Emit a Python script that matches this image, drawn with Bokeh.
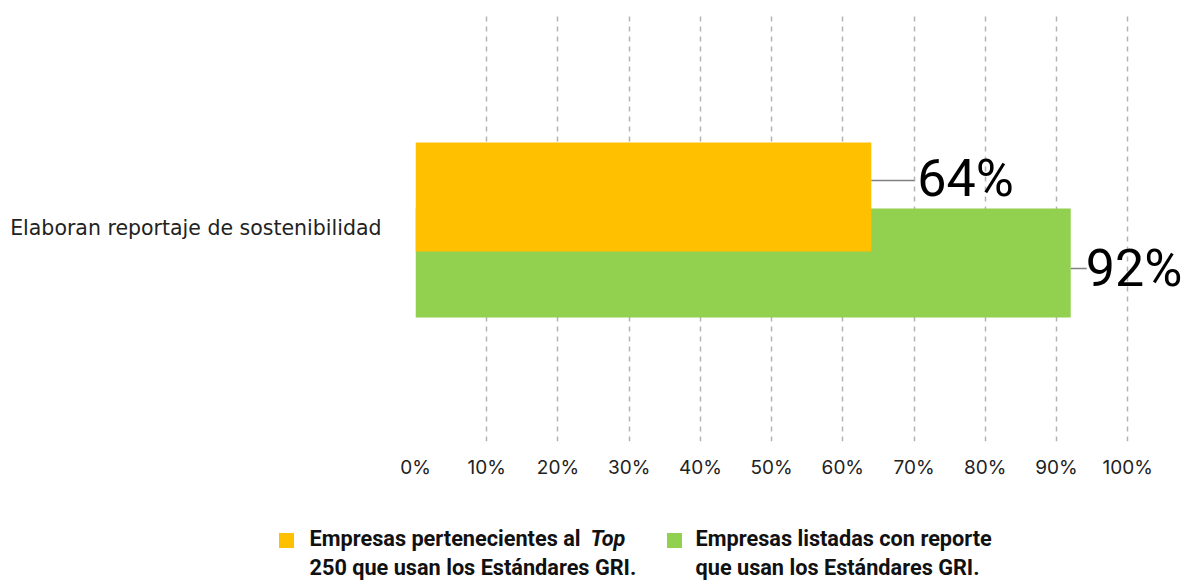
from bokeh.plotting import figure
from bokeh.layouts import column
from bokeh.models import FactorRange, Range1d, FixedTicker, ColumnDataSource
from bokeh.transform import dodge
from bokeh.core.properties import value
from bokeh.embed import file_html
from bokeh.resources import INLINE

# ---- data ----
categories = ["Elaboran reportaje de sostenibilidad"]
top250 = [64]
listed = [92]
series_colors = ["#FFC000", "#92D050"]
# legend texts (line 1 plain part, line 1 italic part, line 2)
legend_line1 = ["Empresas pertenecientes al", "Empresas listadas con reporte"]
legend_line1_italic = ["Top", ""]
legend_line2 = ["250 que usan los Estándares GRI.", "que usan los Estándares GRI."]
x_ticks = [0, 10, 20, 30, 40, 50, 60, 70, 80, 90, 100]
tick_labels = ["0%", "10%", "20%", "30%", "40%", "50%", "60%", "70%", "80%", "90%", "100%"]

# ---- layout constants (px) ----
W = 1190
H_MAIN, H_LEG = 505, 78
LEFT, TOP, BOTTOM = 415, 13, 64
FRAME_W = W - LEFT
FRAME_H = H_MAIN - TOP - BOTTOM
PX_PER_PCT = 7.122
PXU = FRAME_H / 2.0  # px per synthetic unit on the category axis

src = ColumnDataSource(dict(
    cat=categories,
    top250=top250,
    listed=listed,
    top_lbl=[f"{v}%" for v in top250],
    listed_lbl=[f"{v}%" for v in listed],
    top_line_end=[v + 43 / PX_PER_PCT for v in top250],
    listed_line_end=[v + 16 / PX_PER_PCT for v in listed],
))

p = figure(width=W, height=H_MAIN,
           y_range=FactorRange(factors=categories, range_padding=0.5,
                               range_padding_units="absolute"),
           x_range=Range1d(0, FRAME_W / PX_PER_PCT),
           output_backend="svg", toolbar_location=None,
           min_border_left=LEFT, min_border_right=0,
           min_border_top=TOP, min_border_bottom=BOTTOM)
p.outline_line_color = None
p.frame_align = False

# bars (green first so yellow sits on top)
p.hbar(y=dodge("cat", -35.5 / PXU, range=p.y_range), left=0, right="listed",
       height=109 / PXU, source=src, fill_color=series_colors[1], line_color=None)
p.hbar(y=dodge("cat", 30.5 / PXU, range=p.y_range), left=0, right="top250",
       height=109 / PXU, source=src, fill_color=series_colors[0], line_color=None)

# connector lines
p.segment(x0="top250", x1="top_line_end",
          y0=dodge("cat", 47 / PXU, range=p.y_range),
          y1=dodge("cat", 47 / PXU, range=p.y_range),
          source=src, line_color="#808080", line_width=1.5)
p.segment(x0="listed", x1="listed_line_end",
          y0=dodge("cat", -41 / PXU, range=p.y_range),
          y1=dodge("cat", -41 / PXU, range=p.y_range),
          source=src, line_color="#808080", line_width=1.5)

# value labels
p.text(x="top250", y=dodge("cat", 49 / PXU, range=p.y_range), text="top_lbl",
       x_offset=46, source=src, text_baseline="middle", text_align="left",
       text_font=value("Roboto"), text_font_size="52px", text_color="#000000")
p.text(x="listed", y=dodge("cat", -41 / PXU, range=p.y_range), text="listed_lbl",
       x_offset=15, source=src, text_baseline="middle", text_align="left",
       text_font=value("Roboto"), text_font_size="52px", text_color="#000000")

# grid
p.ygrid.visible = False
p.xgrid.ticker = FixedTicker(ticks=x_ticks)
p.xgrid.grid_line_color = "#b3b3b3"
p.xgrid.grid_line_dash = "5 5"
p.xgrid.grid_line_width = 1.5

# axes
p.xaxis.ticker = FixedTicker(ticks=x_ticks)
p.xaxis.major_label_overrides = {t: l for t, l in zip(x_ticks, tick_labels)}
p.xaxis.axis_line_color = None
p.xaxis.major_tick_line_color = None
p.xaxis.minor_tick_line_color = None
p.xaxis.major_label_standoff = 8
p.xaxis.major_label_text_font = "Inter"
p.xaxis.major_label_text_font_size = "19px"
p.xaxis.major_label_text_color = "#222222"

p.yaxis.axis_line_color = None
p.yaxis.major_tick_line_color = None
p.yaxis.minor_tick_line_color = None
p.yaxis.major_label_standoff = 28
p.yaxis.major_label_text_font = "DejaVu Sans"
p.yaxis.major_label_text_font_size = "20.5px"
p.yaxis.major_label_text_color = "#222222"

# ---- legend strip (separate figure in pixel coordinates) ----
lf = figure(width=W, height=H_LEG, x_range=Range1d(0, W), y_range=Range1d(0, H_LEG),
            output_backend="svg", toolbar_location=None, min_border=0)
lf.frame_align = False
lf.axis.visible = False
lf.grid.visible = False
lf.outline_line_color = None

SW_X = [286, 674]          # swatch centres
TXT_X = [309, 695]         # text starts
ITAL_X = [590, 0]
Y1, Y2 = H_LEG - 33, H_LEG - 62

lf.scatter(x=SW_X, y=[Y1 - 2, Y1 - 2], marker="square", size=15,
           fill_color=series_colors, line_color=None)
fnt = dict(text_font=value("Roboto"), text_font_style="bold", text_font_size="21.7px",
           text_color="#111111", text_baseline="middle", text_align="left")
lf.text(x=TXT_X, y=[Y1, Y1], text=legend_line1, **fnt)
lf.text(x=TXT_X, y=[Y2, Y2], text=legend_line2, **fnt)
lf.text(x=ITAL_X[:1], y=[Y1], text=legend_line1_italic[:1],
        text_font=value("Roboto"), text_font_style="bold italic", text_font_size="21.7px",
        text_color="#111111", text_baseline="middle", text_align="left")

layout = column(p, lf, spacing=0)
open("out.html", "w").write(file_html(layout, INLINE))
